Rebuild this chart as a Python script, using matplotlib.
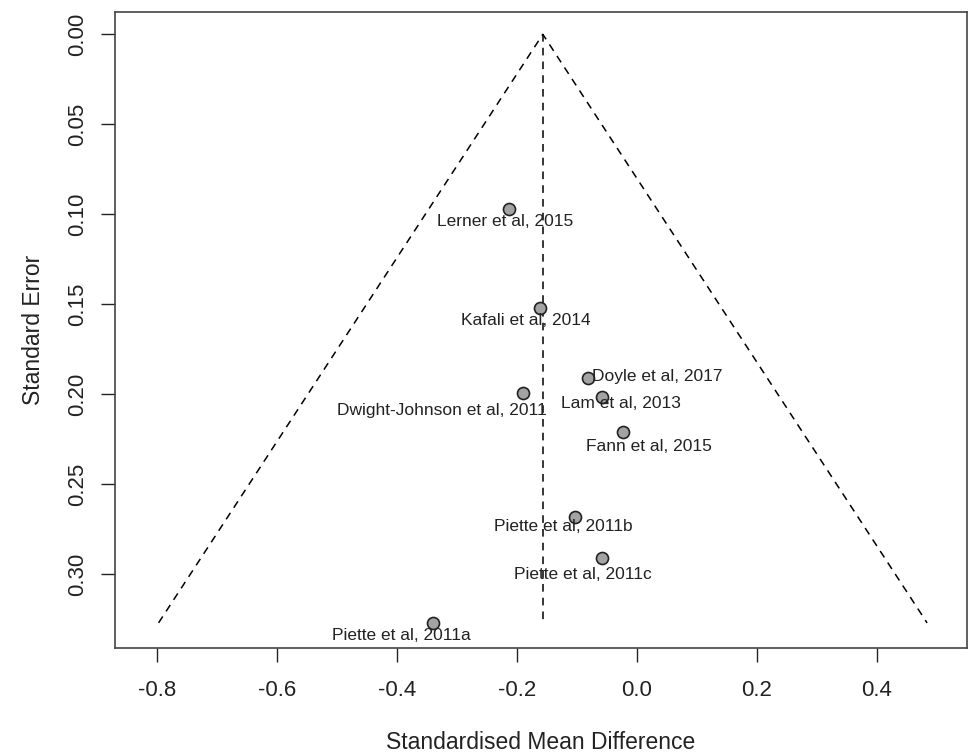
import numpy as np
import matplotlib.pyplot as plt

plt.rcParams['font.family'] = ['Liberation Sans', 'DejaVu Sans']

# study estimates (SMD) and standard errors
studies = ['Lerner et al, 2015', 'Kafali et al, 2014', 'Doyle et al, 2017',
           'Dwight-Johnson et al, 2011', 'Lam et al, 2013', 'Fann et al, 2015',
           'Piette et al, 2011b', 'Piette et al, 2011c', 'Piette et al, 2011a']
smd = [-0.214, -0.162, -0.081, -0.190, -0.059, -0.023, -0.103, -0.059, -0.340]
se = [0.097, 0.152, 0.191, 0.1995, 0.2013, 0.221, 0.268, 0.291, 0.327]
pooled = -0.157

# label offsets in pixels (dx, dy) and alignment
offsets = [(-4, -13, 'center'), (-14, -13, 'center'), (4, 2, 'left'),
           (-81, -17, 'center'), (19, -7, 'center'), (26, -14, 'center'),
           (-12, -10, 'center'), (-19, -16, 'center'), (-32, -13, 'center')]

fig = plt.figure(figsize=(9.7, 7.55), dpi=100)
ax = fig.add_axes([0.1183, 0.1421, 0.8783, 0.8424])

# funnel
se_max = max(se)
ax.plot([pooled - 1.96 * se_max, pooled, pooled + 1.96 * se_max], [se_max, 0, se_max],
        color='black', lw=1.1, ls=(0, (5, 4)))
ax.plot([pooled, pooled], [0, se_max], color='black', lw=1.1, ls=(0, (5, 4)))

ax.scatter(smd, se, s=75, facecolor='#a3a3a3', edgecolor='#222222', lw=1.2, zorder=3)

for name, x, y, (dx, dy, ha) in zip(studies, smd, se, offsets):
    ax.annotate(name, (x, y), xytext=(dx, dy), textcoords='offset pixels',
                ha=ha, va='center', fontsize=12.5, color='#222222')

ax.set_xlim(-0.871, 0.550)
ax.set_ylim(0.3408, -0.01256)
ax.set_xticks([-0.8, -0.6, -0.4, -0.2, 0.0, 0.2, 0.4])
ax.set_xticklabels(['-0.8', '-0.6', '-0.4', '-0.2', '0.0', '0.2', '0.4'])
ax.set_yticks([0.0, 0.05, 0.10, 0.15, 0.20, 0.25, 0.30])
ax.set_yticklabels(['0.00', '0.05', '0.10', '0.15', '0.20', '0.25', '0.30'],
                   rotation=90, va='center')
ax.tick_params(length=10, width=1, labelsize=16, colors='#222222')
ax.tick_params(axis='x', pad=13)
ax.tick_params(axis='y', pad=9)
for s in ax.spines.values():
    s.set_linewidth(1.2)
    s.set_color('#444444')

ax.set_xlabel('Standardised Mean Difference', fontsize=16.5, labelpad=22, color='#222222')
ax.set_ylabel('Standard Error', fontsize=16.5, labelpad=16, color='#222222')

fig.savefig('out.png', dpi=100)
